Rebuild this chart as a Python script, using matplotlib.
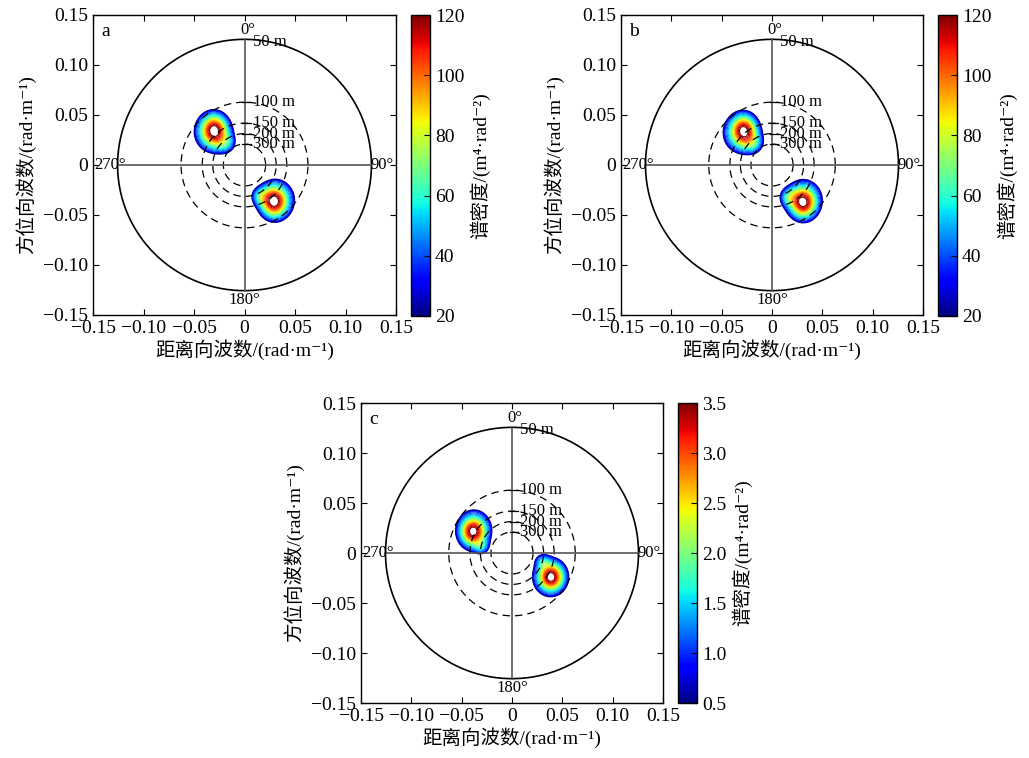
"""Directional wave spectra (range/azimuth wavenumber) for three SAR scenes."""

from __future__ import annotations

import numpy as np
import matplotlib

matplotlib.use("Agg")
import matplotlib.pyplot as plt

plt.rcParams["font.family"] = ["Liberation Serif", "Noto Sans CJK SC", "DejaVu Serif"]
plt.rcParams["axes.unicode_minus"] = True

# wavelength rings (m)
RING_WAVELENGTHS = [50, 100, 150, 200, 300]
RING_LABELS = ["50 m", "100 m", "150 m", "200 m", "300 m"]
ANGLE_LABELS = ["0°", "90°", "180°", "270°"]
AXIS_TICKS = [-0.15, -0.10, -0.05, 0.0, 0.05, 0.10, 0.15]

PANEL_NAMES = ["a", "b", "c"]
XLABEL = "距离向波数/(rad·m⁻¹)"
YLABEL = "方位向波数/(rad·m⁻¹)"
CBAR_LABEL = "谱密度/(m⁴·rad⁻²)"

# contour levels per panel (m^4 rad^-2)
LEVELS_A = np.linspace(20, 120, 21)
LEVELS_B = np.linspace(20, 120, 21)
LEVELS_C = np.linspace(0.5, 3.5, 21)
CBAR_TICKS_A = [20, 40, 60, 80, 100, 120]
CBAR_TICKS_B = [20, 40, 60, 80, 100, 120]
CBAR_TICKS_C = [0.5, 1.0, 1.5, 2.0, 2.5, 3.0, 3.5]

# spectral components: (kx, ky, sx, sy, weight), kx/ky in rad/m
COMPS_A = [(-0.031, 0.033, 0.014, 0.015, 0.50), (-0.030, 0.035, 0.008, 0.010, 0.50),
           (-0.018, 0.021, 0.007, 0.007, 0.22),
           (0.031, -0.035, 0.014, 0.015, 0.50), (0.029, -0.037, 0.008, 0.010, 0.50),
           (0.015, -0.031, 0.006, 0.006, 0.22)]
COMPS_B = [(-0.030, 0.032, 0.014, 0.015, 0.50), (-0.028, 0.035, 0.008, 0.010, 0.50),
           (-0.018, 0.021, 0.007, 0.007, 0.22),
           (0.031, -0.035, 0.014, 0.015, 0.50), (0.031, -0.038, 0.008, 0.010, 0.50),
           (0.016, -0.032, 0.006, 0.006, 0.22)]
COMPS_C = [(-0.0375, 0.023, 0.012, 0.014, 0.50), (-0.039, 0.021, 0.008, 0.009, 0.50),
           (-0.030, 0.006, 0.005, 0.005, 0.22),
           (0.038, -0.024, 0.012, 0.013, 0.50), (0.039, -0.024, 0.008, 0.009, 0.50),
           (0.030, -0.008, 0.005, 0.005, 0.22)]

# spectral peak value and low-energy cut-off (fraction of peak)
PEAK_A, CUT_A = 132.0, 0.22
PEAK_B, CUT_B = 130.0, 0.22
PEAK_C, CUT_C = 3.8, 0.20


def spectrum(kx, ky, comps, peak, cut):
    g = np.zeros_like(kx)
    for x0, y0, sx, sy, w in comps:
        g += w * np.exp(-0.5 * (((kx - x0) / sx) ** 2 + ((ky - y0) / sy) ** 2))
    g /= g.max()
    return peak * g * (1.0 - np.exp(-((g / cut) ** 6)))


def tick_fmt(v):
    return "0" if abs(v) < 1e-9 else f"{v:.2f}".replace("-", "\u2212")


def draw_panel(ax, cax, name, comps, peak, cut, levels, cticks, cfmt):
    k = np.linspace(-0.15, 0.15, 601)
    kx, ky = np.meshgrid(k, k)
    z = spectrum(kx, ky, comps, peak, cut)
    ax.contour(kx, ky, z, levels=levels, cmap="jet", linewidths=0.8,
               vmin=levels[0], vmax=levels[-1])

    radii = [2 * np.pi / w for w in RING_WAVELENGTHS]
    theta = np.linspace(0, 2 * np.pi, 400)
    r50 = radii[0]
    ax.plot(r50 * np.cos(theta), r50 * np.sin(theta), color="k", lw=1.2)
    for r in radii[1:]:
        ax.plot(r * np.cos(theta), r * np.sin(theta), color="k", lw=0.9,
                linestyle=(0, (6, 4)))
    ax.plot([0, 0], [-r50, r50], color="#555555", lw=1.2)
    ax.plot([-r50, r50], [0, 0], color="#555555", lw=1.2)

    for r, lab in zip(radii, RING_LABELS):
        if r < r50:
            ax.plot([-0.002, 0.006], [r, r], color="k", lw=0.9)
            ax.text(0.008, r, lab, fontsize=12, ha="left", va="center")
        else:
            ax.text(0.008, r - 0.003, lab, fontsize=12, ha="left", va="center")

    ax.text(0.003, r50 + 0.001, ANGLE_LABELS[0], fontsize=12, ha="center", va="bottom")
    ax.text(r50 - 0.001, 0.0, ANGLE_LABELS[1], fontsize=12, ha="left", va="center")
    ax.text(0.0, -r50 - 0.001, ANGLE_LABELS[2], fontsize=12, ha="center", va="top")
    ax.text(-r50 + 0.008, 0.0, ANGLE_LABELS[3], fontsize=12, ha="right", va="center")
    ax.text(-0.142, 0.142, name, fontsize=14, ha="left", va="top")

    ax.set_xlim(-0.15, 0.15)
    ax.set_ylim(-0.15, 0.15)
    ax.set_xticks(AXIS_TICKS)
    ax.set_yticks(AXIS_TICKS)
    ax.set_xticklabels([tick_fmt(v) for v in AXIS_TICKS])
    ax.set_yticklabels([tick_fmt(v) for v in AXIS_TICKS])
    ax.tick_params(direction="in", top=True, right=True, length=4, labelsize=14)
    ax.set_xlabel(XLABEL, fontsize=14, labelpad=2)
    ax.set_ylabel(YLABEL, fontsize=14, labelpad=5)
    for sp in ax.spines.values():
        sp.set_linewidth(1.0)

    norm = matplotlib.colors.Normalize(vmin=levels[0], vmax=levels[-1])
    sm = matplotlib.cm.ScalarMappable(norm=norm, cmap="jet")
    cb = plt.colorbar(sm, cax=cax, ticks=cticks)
    cb.ax.set_yticklabels([cfmt(t) for t in cticks])
    cb.ax.tick_params(labelsize=14, direction="in", length=4)
    cb.set_label(CBAR_LABEL, fontsize=14, labelpad=4)
    cb.outline.set_linewidth(1.0)


def main() -> None:
    fig = plt.figure(figsize=(10.29, 7.58), dpi=100)
    W, H = 1029.0, 758.0

    def box(x0, y0, x1, y1):
        return [x0 / W, 1 - y1 / H, (x1 - x0) / W, (y1 - y0) / H]

    ax_a = fig.add_axes(box(93, 15, 396, 315))
    cax_a = fig.add_axes(box(411, 15, 430, 316))
    ax_b = fig.add_axes(box(621, 15, 923, 315))
    cax_b = fig.add_axes(box(938, 15, 957, 316))
    ax_c = fig.add_axes(box(361, 403, 663, 703))
    cax_c = fig.add_axes(box(678, 403, 697, 703))

    draw_panel(ax_a, cax_a, PANEL_NAMES[0], COMPS_A, PEAK_A, CUT_A,
               LEVELS_A, CBAR_TICKS_A, lambda t: f"{t:d}")
    draw_panel(ax_b, cax_b, PANEL_NAMES[1], COMPS_B, PEAK_B, CUT_B,
               LEVELS_B, CBAR_TICKS_B, lambda t: f"{t:d}")
    draw_panel(ax_c, cax_c, PANEL_NAMES[2], COMPS_C, PEAK_C, CUT_C,
               LEVELS_C, CBAR_TICKS_C, lambda t: f"{t:.1f}")

    fig.savefig("out.png", dpi=100)
    plt.close(fig)


if __name__ == "__main__":
    main()
